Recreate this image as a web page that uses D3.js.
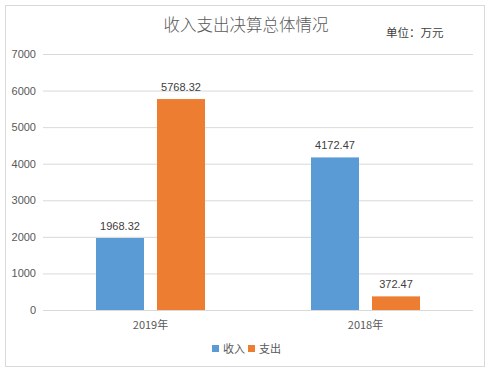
<!DOCTYPE html>
<html>
<head>
<meta charset="utf-8">
<script src="https://cdn.jsdelivr.net/npm/d3@7"></script>
<style>
body { margin: 0; background: #fff; }
text { font-family: "Noto Sans CJK SC", "DejaVu Sans", sans-serif; }
</style>
</head>
<body>
<div id="chart"></div>
<script>
var categories = ["2019年", "2018年"];
var seriesNames = ["收入", "支出"];
var income = [1968.32, 4172.47];
var expense = [5768.32, 372.47];
var yTicks = [0, 1000, 2000, 3000, 4000, 5000, 6000, 7000];
var colors = ["#5b9bd5", "#ed7d31"];

var W = 494, H = 373;
var margin = {top: 54, right: 21, bottom: 63, left: 43},
width = W - margin.left - margin.right,
height = H - margin.top - margin.bottom;

var svg = d3.select("#chart")
.append("svg")
.attr("width", W)
.attr("height", H);

// outer frame
svg.append("rect")
.attr("x", 5.5).attr("y", 5.5)
.attr("width", 479).attr("height", 361)
.attr("fill", "#fff")
.attr("stroke", "#d9d9d9");

svg.append("text")
.attr("x", 246).attr("y", 31)
.attr("text-anchor", "middle")
.attr("font-size", 16.5)
.attr("font-weight", 300)
.attr("fill", "#595959")
.text("收入支出决算总体情况");

svg.append("text")
.attr("x", 386).attr("y", 37)
.attr("font-size", 11.5)
.attr("fill", "#404040")
.text("单位：万元");

var g = svg.append("g")
.attr("transform", "translate(" + margin.left + "," + margin.top + ")");

var x = d3.scaleBand()
.domain(categories)
.range([0, width]);

var y = d3.scaleLinear()
.domain([0, 7000])
.range([height, 0]);

var yAxis = g.append("g")
.call(d3.axisLeft(y).tickValues(yTicks).tickFormat(d3.format("d")).tickSize(-width).tickPadding(7));
yAxis.select(".domain").remove();
yAxis.selectAll("line").attr("stroke", "#d9d9d9");
yAxis.selectAll("text").attr("font-size", 11).attr("fill", "#595959")
.style("font-family", "'Liberation Sans', Arial, sans-serif");

var barW = 48, gap = 13;
var x1 = d3.scaleBand()
.domain(seriesNames)
.range([x.bandwidth() / 2 - barW - gap / 2, x.bandwidth() / 2 + barW + gap / 2])
.paddingInner(gap / (barW + gap));

var rows = categories.map(function(c, i) {
  return {cat: c, vals: [income[i], expense[i]]};
});

var grp = g.selectAll(".grp")
.data(rows)
.enter()
.append("g")
.attr("transform", function(d) { return "translate(" + x(d.cat) + ",0)"; });

grp.selectAll("rect")
.data(function(d) { return d.vals.map(function(v, j) { return {name: seriesNames[j], v: v, j: j}; }); })
.enter()
.append("rect")
.attr("x", function(d) { return x1(d.name); })
.attr("y", function(d) { return y(d.v); })
.attr("width", x1.bandwidth())
.attr("height", function(d) { return height - y(d.v); })
.attr("fill", function(d) { return colors[d.j]; });

grp.selectAll(".lbl")
.data(function(d) { return d.vals.map(function(v, j) { return {name: seriesNames[j], v: v}; }); })
.enter()
.append("text")
.attr("x", function(d) { return x1(d.name) + x1.bandwidth() / 2; })
.attr("y", function(d) { return y(d.v) - 8; })
.attr("text-anchor", "middle")
.attr("font-size", 11)
.attr("fill", "#404040")
.style("font-family", "'Liberation Sans', Arial, sans-serif")
.text(function(d) { return d.v.toFixed(2); });

// category labels
g.selectAll(".cat")
.data(categories)
.enter()
.append("text")
.attr("x", function(d) { return x(d) + x.bandwidth() / 2; })
.attr("y", height + 19)
.attr("text-anchor", "middle")
.attr("font-size", 11)
.attr("fill", "#595959")
.text(function(d) { return d; });

// legend
var legX = [212, 248];
var leg = svg.selectAll(".leg")
.data(seriesNames)
.enter()
.append("g")
.attr("transform", function(d, i) { return "translate(" + legX[i] + ",345)"; });
leg.append("rect")
.attr("width", 7).attr("height", 7)
.attr("fill", function(d, i) { return colors[i]; });
leg.append("text")
.attr("x", 11).attr("y", 8)
.attr("font-size", 11)
.attr("fill", "#595959")
.text(function(d) { return d; });
</script>
</body>
</html>
